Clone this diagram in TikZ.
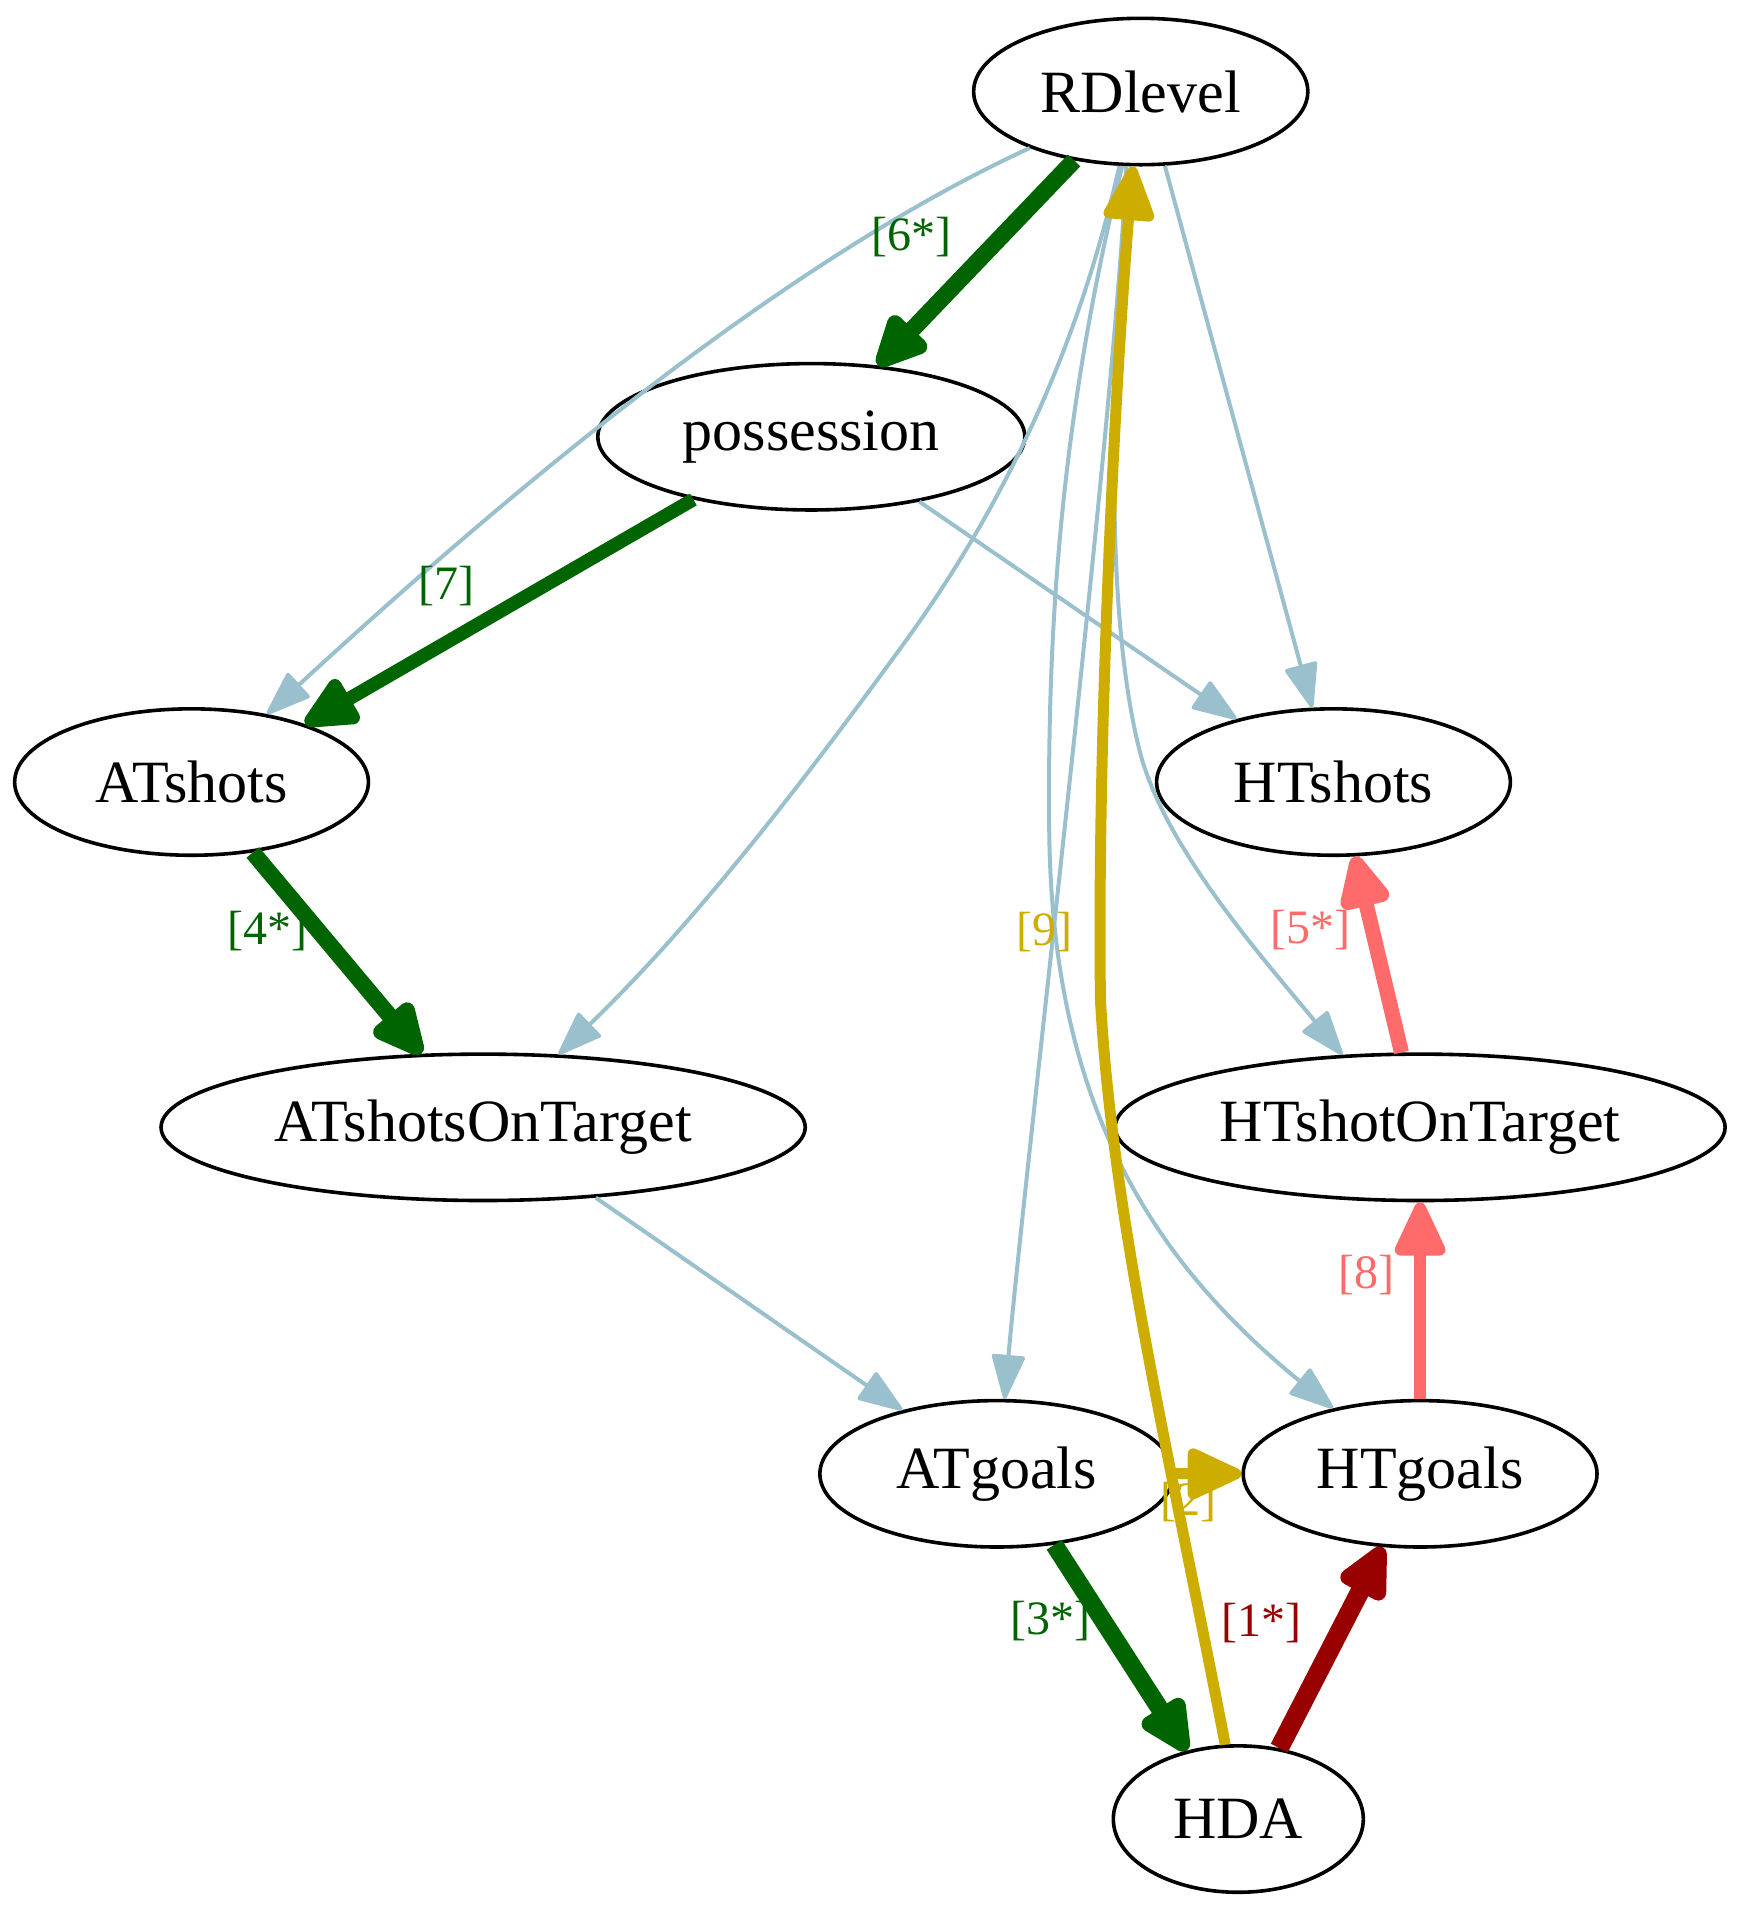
\documentclass[tikz,border=0pt]{standalone}
\usepackage{fontspec}
\setmainfont{Liberation Serif}
\usetikzlibrary{shapes.geometric,arrows.meta}
\definecolor{lb}{HTML}{9AC0CD}
\definecolor{dg}{HTML}{006400}
\definecolor{gy}{HTML}{CDAD00}
\definecolor{sal}{HTML}{FF6A6A}
\definecolor{dr}{HTML}{990000}
\begin{document}
\begin{tikzpicture}[x=0.61pt,y=-0.61pt,
  nd/.style={ellipse, draw, line width=1.8pt, inner sep=0pt, minimum height=73.2pt, font=\fontsize{30}{32}\selectfont},
  lbl/.style={font=\fontsize{24}{26}\selectfont, inner sep=0pt},
  bl/.style={draw=lb, line width=2pt, -{Triangle[length=24pt,width=17pt,round]}},
  hv/.style 2 args={draw=#1, line width=#2, -{Triangle[length=31pt,width=27pt,round]}}]
\useasboundingbox (0,0) rectangle (1429.5,1568);
% nodes
\node[nd, minimum width=167.1pt] (RDlevel) at (935,75) {RDlevel};
\node[nd, minimum width=213.5pt] (possession) at (665,358) {possession};
\node[nd, minimum width=176.9pt] (ATshots) at (157,641) {ATshots};
\node[nd, minimum width=176.9pt] (HTshots) at (1093,641) {HTshots};
\node[nd, minimum width=322.1pt] (ATsOT) at (396,924) {ATshotsOnTarget};
\node[nd, minimum width=305pt] (HTsOT) at (1164,924) {HTshotOnTarget};
\node[nd, minimum width=176.9pt] (ATgoals) at (817,1208) {ATgoals};
\node[nd, minimum width=176.9pt] (HTgoals) at (1164,1208) {HTgoals};
\node[nd, minimum width=125pt] (HDA) at (1015,1491) {HDA};
% waypoints
\coordinate (w6) at (739,530);
\coordinate (w8) at (934,615);
\coordinate (w11) at (860,680);
\coordinate (w15) at (902,820);
% blue edges
\draw[bl] (RDlevel.207.8) .. controls (640,215) and (415,405) .. (ATshots.42.5);
\draw[bl] (possession.-31.8) -- (HTshots.147);
\draw[bl] (RDlevel.-72.7) -- (HTshots.106.8);
\draw[bl] (RDlevel.254) .. controls (888,267) and (834,400) .. (w6) .. controls (659,640) and (571,755) .. (ATsOT.44);
\draw[bl] (RDlevel.263.3) .. controls (910,300) and (905,500) .. (w8) .. controls (954,695) and (1037.6,788) .. (HTsOT.137.9);
\draw[bl] (RDlevel.259.6) .. controls (915,330) and (840,960) .. (ATgoals.84.9);
\draw[bl] (RDlevel.256.9) .. controls (876,317) and (858,480) .. (w11) .. controls (862,900) and (940,1030) .. (HTgoals.143.8);
\draw[bl] (ATsOT.-32.4) -- (ATgoals.146.6);
% heavy edges
\draw[hv={dg}{8.5pt}] (RDlevel.226.5) -- (possession.47.6);
\draw[hv={dg}{6.8pt}] (possession.208.5) -- (ATshots.27.9);
\draw[hv={dg}{8.2pt}] (ATshots.-49.7) -- (ATsOT.130.8);
\draw[hv={sal}{7.5pt}] (HTsOT.104.2) -- (HTshots.-74.4);
\draw[hv={sal}{5.8pt}] (HTgoals.90) -- (HTsOT.270);
\draw[hv={gy}{5.5pt}] (ATgoals.east) -- (HTgoals.west);
\draw[hv={gy}{5.5pt}] (HDA.100.2) .. controls (960,1200) and (912,1000) .. (w15) .. controls (899,600) and (915,300) .. (RDlevel.264.3);
\draw[hv={dg}{9pt}] (ATgoals.-51.7) -- (HDA.127.8);
\draw[hv={dr}{9.5pt}] (HDA.60.5) -- (HTgoals.243.2);
% labels
\node[lbl, text=dg] (l6) at (747,194) {[6*]};
\node[lbl, text=dg] (l7) at (366,480) {[7]};
\node[lbl, text=dg] (l4) at (219,763) {[4*]};
\node[lbl, text=sal] (l5) at (1074,762) {[5*]};
\node[lbl, text=gy] (l9) at (856,764) {[9]};
\node[lbl, text=sal] (l8) at (1120,1045) {[8]};
\node[lbl, text=gy] (l2) at (974,1231) {[2]};
\node[lbl, text=dg] (l3) at (861,1329) {[3*]};
\node[lbl, text=dr] (l1) at (1034,1330) {[1*]};
\end{tikzpicture}
\end{document}
